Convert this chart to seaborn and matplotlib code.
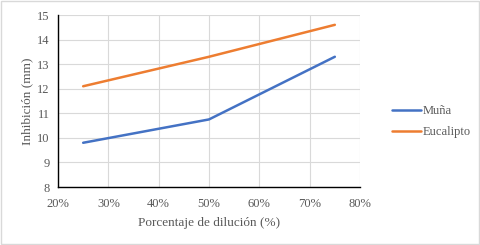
import numpy as np
import pandas as pd
import matplotlib.pyplot as plt
import seaborn as sns
from matplotlib.ticker import PercentFormatter

sns.set_theme(style="whitegrid")
plt.rcParams['font.family'] = ['Liberation Serif', 'DejaVu Serif']

# Data
dilucion = [25, 50, 75]
muna = [9.8, 10.75, 13.3]
eucalipto = [12.1, 13.3, 14.6]
series = ["Muña", "Eucalipto"]

df = pd.DataFrame({
    "dilucion": dilucion * 2,
    "inhibicion": muna + eucalipto,
    "serie": [series[0]] * 3 + [series[1]] * 3,
})

txt = "#595959"
fig = plt.figure(figsize=(4.8, 2.45), dpi=100)
ax = fig.add_axes([58 / 480, 1 - 187 / 245, 302 / 480, 172 / 245])
sns.lineplot(data=df, x="dilucion", y="inhibicion", hue="serie",
             palette=["#4472C4", "#ED7D31"], linewidth=1.8, ax=ax)

ax.set_xlim(20, 80)
ax.set_ylim(8, 15)
ax.set_xticks(range(20, 81, 10))
ax.set_yticks(range(8, 16))
ax.xaxis.set_major_formatter(PercentFormatter(decimals=0))
ax.grid(True, color="#d9d9d9", linewidth=0.8)
for s in ["top", "right"]:
    ax.spines[s].set_visible(False)
for s in ["left", "bottom"]:
    ax.spines[s].set_color("black")
    ax.spines[s].set_linewidth(1.0)
ax.tick_params(colors=txt, labelsize=9, length=0)
ax.tick_params(axis="x", pad=8)
ax.tick_params(axis="y", pad=6)
ax.set_xlabel("Porcentaje de dilución (%)", color=txt, fontsize=9.5, labelpad=5)
ax.set_ylabel("Inhibición (mm)", color=txt, fontsize=9.5, labelpad=3)

leg = ax.legend(loc="center left", bbox_to_anchor=(1.068, 0.38), frameon=False,
                fontsize=9, handlelength=2.3, labelspacing=0.7, handletextpad=0.2)
for t in leg.get_texts():
    t.set_color(txt)

fig.patches.append(plt.Rectangle((0.002, 0.004), 0.996, 0.992, transform=fig.transFigure,
                                 fill=False, edgecolor="#d9d9d9", linewidth=1))
fig.savefig("out.png", dpi=100)
